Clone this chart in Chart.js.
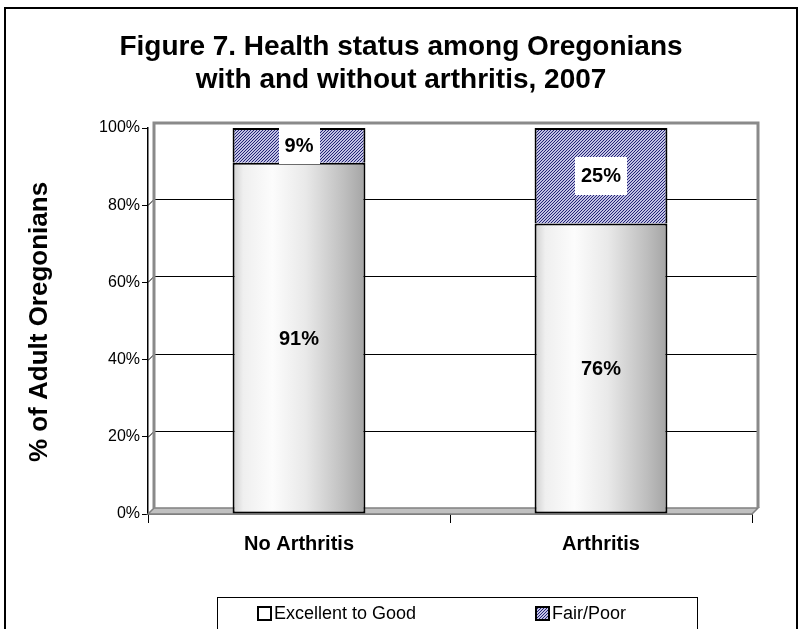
<!DOCTYPE html>
<html>
<head>
<meta charset="utf-8">
<script src="https://cdn.jsdelivr.net/npm/chart.js@4.4.1/dist/chart.umd.min.js"></script>
<style>
  html, body { margin: 0; padding: 0; background: #fff; }
  #wrap { width: 803px; height: 629px; }
</style>
</head>
<body>
<div id="wrap"><canvas id="healthChart" width="803" height="629"></canvas></div>
<script>
const groups = ['No Arthritis', 'Arthritis'];
const excellentToGood = [91, 76];
const fairPoor = [9, 25];
const seriesNames = ['Excellent to Good', 'Fair/Poor'];
const titleLines = ['Figure 7. Health status among Oregonians', 'with and without arthritis, 2007'];
const yTitle = '% of Adult Oregonians';

const FONT = '"Liberation Sans", Arial, Helvetica, sans-serif';
const DEPTH = 6;

// 100% stacked: each column is scaled to its own total
const totals = groups.map((g, i) => excellentToGood[i] + fairPoor[i]);
const share = arr => arr.map((v, i) => v / totals[i] * 100);

const canvas = document.getElementById('healthChart');
const mainCtx = canvas.getContext('2d');

// fine blue diagonal hatch for Fair/Poor
function makeHatch() {
  const tile = document.createElement('canvas');
  tile.width = 3; tile.height = 3;
  const t = tile.getContext('2d');
  t.fillStyle = '#c2c2e4';
  t.fillRect(0, 0, 3, 3);
  t.fillStyle = '#242476';
  for (let i = 0; i < 3; i++) t.fillRect(i, 2 - i, 1, 1);
  return mainCtx.createPattern(tile, 'repeat');
}
const hatch = makeHatch();

// back wall, floor and gridlines
const wallPlugin = {
  id: 'wall',
  beforeDatasetsDraw(chart) {
    const { ctx, chartArea: a } = chart;
    const y = chart.scales.y;
    ctx.save();
    // floor
    ctx.beginPath();
    ctx.moveTo(a.left, a.bottom);
    ctx.lineTo(a.right, a.bottom);
    ctx.lineTo(a.right + DEPTH, a.bottom - DEPTH);
    ctx.lineTo(a.left + DEPTH, a.bottom - DEPTH);
    ctx.closePath();
    ctx.fillStyle = '#c0c0c0';
    ctx.fill();
    ctx.strokeStyle = '#808080';
    ctx.lineWidth = 1.5;
    ctx.stroke();
    // gridlines on the wall
    ctx.strokeStyle = '#000';
    ctx.lineWidth = 1;
    y.ticks.forEach(t => {
      if (t.value === 0 || t.value === 100) return;
      const py = Math.round(y.getPixelForValue(t.value)) + 0.5;
      ctx.beginPath();
      ctx.moveTo(a.left, py);
      ctx.lineTo(a.left + DEPTH, py - DEPTH);
      ctx.lineTo(a.right + DEPTH, py - DEPTH);
      ctx.stroke();
    });
    // wall outline
    ctx.strokeStyle = '#8a8a8a';
    ctx.lineWidth = 3;
    ctx.beginPath();
    ctx.moveTo(a.left + DEPTH, a.bottom - DEPTH);
    ctx.lineTo(a.left + DEPTH, a.top - DEPTH + 1);
    ctx.lineTo(a.right + DEPTH, a.top - DEPTH + 1);
    ctx.lineTo(a.right + DEPTH, a.bottom - DEPTH);
    ctx.stroke();
    ctx.restore();

    // shaded face on the Excellent to Good columns (own options object per bar)
    chart.getDatasetMeta(0).data.forEach(el => {
      const x0 = el.x - el.width / 2, x1 = el.x + el.width / 2;
      const g = ctx.createLinearGradient(x0, 0, x1, 0);
      g.addColorStop(0, '#cfcfcf');
      g.addColorStop(0.08, '#efefef');
      g.addColorStop(0.3, '#fcfcfc');
      g.addColorStop(0.55, '#e9e9e9');
      g.addColorStop(0.85, '#bdbdbd');
      g.addColorStop(1, '#a4a4a4');
      el.options = Object.assign({}, el.options, { backgroundColor: g });
    });
  }
};

// value labels, titles and legend box
const textPlugin = {
  id: 'texts',
  afterDatasetsDraw(chart) {
    const { ctx } = chart;
    ctx.save();
    ctx.textAlign = 'center';
    ctx.textBaseline = 'middle';
    ctx.font = 'bold 20px ' + FONT;
    const raw = [excellentToGood, fairPoor];
    chart.data.datasets.forEach((ds, di) => {
      chart.getDatasetMeta(di).data.forEach((el, i) => {
        const text = raw[di][i] + '%';
        const cy = (el.y + el.base) / 2;
        if (di === 1) {
          const w = ctx.measureText(text).width + 12;
          ctx.fillStyle = '#fff';
          ctx.fillRect(Math.round(el.x - w / 2), Math.round(cy - 19), Math.round(w), 38);
        }
        ctx.fillStyle = '#000';
        ctx.fillText(text, el.x, cy + 1);
      });
    });
    ctx.restore();
  },
  afterDraw(chart) {
    const { ctx } = chart;
    ctx.save();
    // outer frame
    ctx.strokeStyle = '#000';
    ctx.lineWidth = 2;
    ctx.strokeRect(5, 8, 792, 640);

    ctx.fillStyle = '#000';
    ctx.textAlign = 'center';
    ctx.textBaseline = 'middle';
    ctx.font = 'bold 28px ' + FONT;
    ctx.fillText(titleLines[0], 401, 47);
    ctx.fillText(titleLines[1], 401, 80);

    ctx.save();
    ctx.translate(40, 322);
    ctx.rotate(-Math.PI / 2);
    ctx.font = 'bold 26px ' + FONT;
    ctx.fillText(yTitle, 0, 0);
    ctx.restore();

    // legend
    ctx.lineWidth = 1;
    ctx.strokeRect(217.5, 597.5, 480, 60);
    ctx.font = '18px ' + FONT;
    ctx.textAlign = 'left';
    const items = [[258, '#fff'], [536, hatch]];
    chart.data.datasets.forEach((ds, i) => {
      const [lx, fill] = items[i];
      ctx.fillStyle = fill;
      ctx.fillRect(lx, 607, 13, 13);
      ctx.lineWidth = 2;
      ctx.strokeStyle = '#000';
      ctx.strokeRect(lx, 607, 13, 13);
      ctx.fillStyle = '#000';
      ctx.fillText(ds.label, lx + 16, 614);
    });
    ctx.restore();
  }
};

new Chart(canvas, {
  type: 'bar',
  data: {
    labels: groups,
    datasets: [
      { label: seriesNames[0], data: share(excellentToGood), backgroundColor: '#eeeeee',
        borderWidth: 2 },
      { label: seriesNames[1], data: share(fairPoor), backgroundColor: hatch,
        borderWidth: { top: 2, left: 2, right: 2, bottom: 0 } }
    ]
  },
  options: {
    responsive: false,
    animation: false,
    devicePixelRatio: 1,
    layout: { padding: { top: 128, right: 51, bottom: 0, left: 0 } },
    datasets: {
      bar: {
        borderColor: '#000',
        borderSkipped: false,
        barPercentage: 0.44,
        categoryPercentage: 1
      }
    },
    plugins: {
      legend: { display: false },
      title: { display: false },
      tooltip: { enabled: false }
    },
    scales: {
      x: {
        stacked: true,
        offset: true,
        afterFit: s => { s.height = 115; },
        grid: { offset: true, drawOnChartArea: false, tickLength: 9, tickColor: '#000', tickWidth: 1 },
        border: { display: true, color: '#000', width: 1.5 },
        ticks: { color: '#000', padding: 9, font: { family: FONT, size: 20, weight: 'bold' } }
      },
      y: {
        stacked: true,
        min: 0,
        max: 100,
        afterFit: s => { s.width = 148; },
        grid: { drawOnChartArea: false, tickLength: 6, tickColor: '#000', tickWidth: 1 },
        border: { display: true, color: '#000', width: 1.5 },
        ticks: {
          stepSize: 20,
          color: '#000',
          padding: 2,
          font: { family: FONT, size: 16 },
          callback: v => v + '%'
        }
      }
    }
  },
  plugins: [wallPlugin, textPlugin]
});
</script>
</body>
</html>
